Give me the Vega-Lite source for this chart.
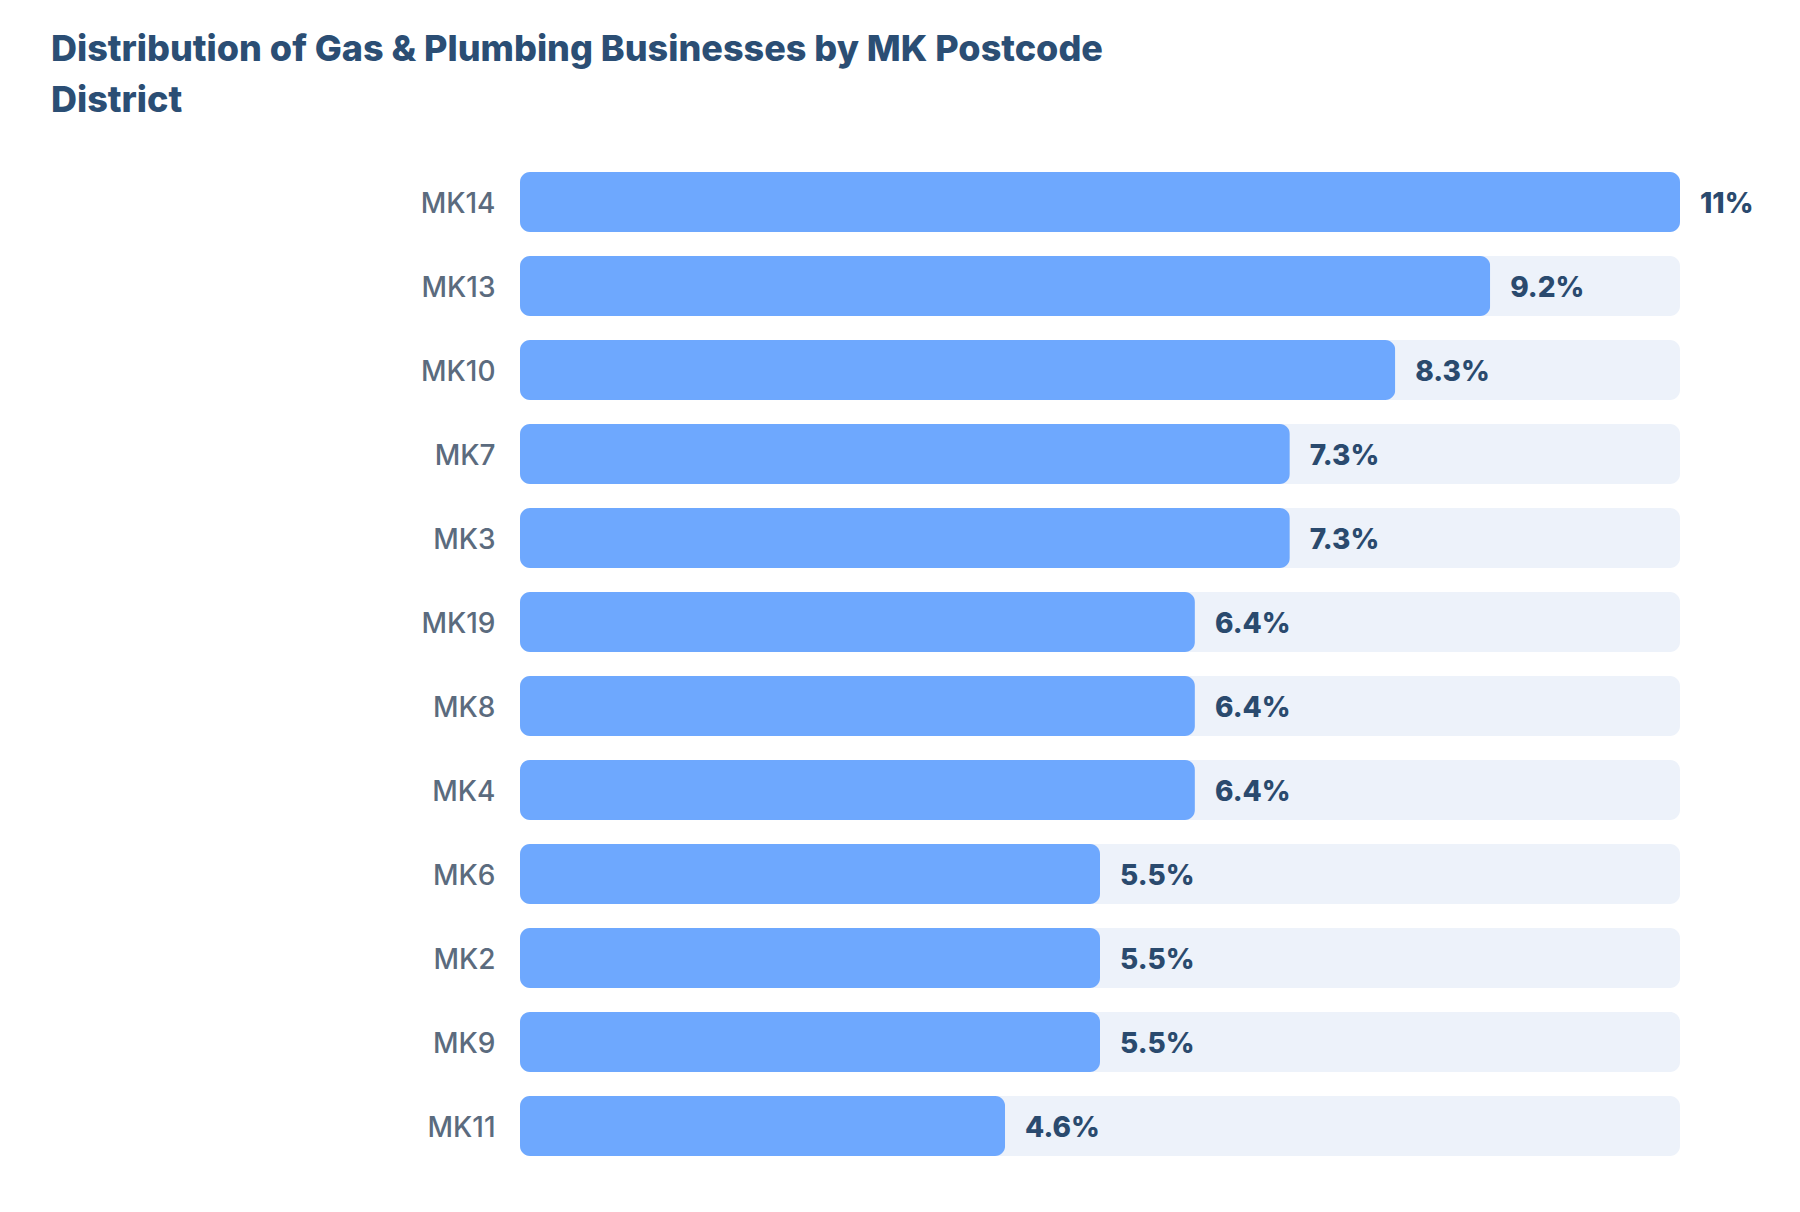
{
  "$schema": "https://vega.github.io/schema/vega-lite/v6.json",
  "width": 1160,
  "height": 1008,
  "autosize": {"type": "none"},
  "padding": {"left": 520, "top": 160, "right": 120, "bottom": 44},
  "background": "white",
  "title": {
    "text": ["Distribution of Gas & Plumbing Businesses by MK Postcode", "District"],
    "anchor": "start",
    "frame": "group",
    "dx": -469,
    "font": "Inter",
    "fontSize": 36,
    "fontWeight": 800,
    "color": "#2b4e74",
    "lineHeight": 51,
    "offset": 40
  },
  "data": {
    "values": [
      {"district": "MK14", "share": 0.11},
      {"district": "MK13", "share": 0.092},
      {"district": "MK10", "share": 0.083},
      {"district": "MK7", "share": 0.073},
      {"district": "MK3", "share": 0.073},
      {"district": "MK19", "share": 0.064},
      {"district": "MK8", "share": 0.064},
      {"district": "MK4", "share": 0.064},
      {"district": "MK6", "share": 0.055},
      {"district": "MK2", "share": 0.055},
      {"district": "MK9", "share": 0.055},
      {"district": "MK11", "share": 0.046}
    ]
  },
  "encoding": {
    "y": {
      "field": "district",
      "type": "nominal",
      "sort": null,
      "scale": {"paddingInner": 0.2857, "paddingOuter": 0.1429},
      "axis": {
        "title": null,
        "domain": false,
        "ticks": false,
        "labelPadding": 25,
        "labelOffset": 3,
        "labelFont": "Inter",
        "labelFontSize": 28,
        "labelFontWeight": 500,
        "labelColor": "#5b6b7e"
      }
    }
  },
  "layer": [
    {
      "mark": {"type": "bar", "color": "#edf2fa", "cornerRadius": 10},
      "encoding": {
        "x": {"datum": 0.11, "type": "quantitative", "scale": {"domain": [0, 0.11], "nice": false}, "axis": null}
      }
    },
    {
      "mark": {"type": "bar", "color": "#6ea8fe", "cornerRadius": 10},
      "encoding": {
        "x": {"field": "share", "type": "quantitative", "axis": null}
      }
    },
    {
      "mark": {"type": "text", "align": "left", "baseline": "middle", "dx": 20, "dy": 3, "font": "Inter", "fontSize": 28, "fontWeight": 800, "color": "#2a4a6e"},
      "encoding": {
        "x": {"field": "share", "type": "quantitative", "axis": null},
        "text": {"field": "share", "format": ".1~%"}
      }
    }
  ],
  "config": {"view": {"stroke": null}}
}
